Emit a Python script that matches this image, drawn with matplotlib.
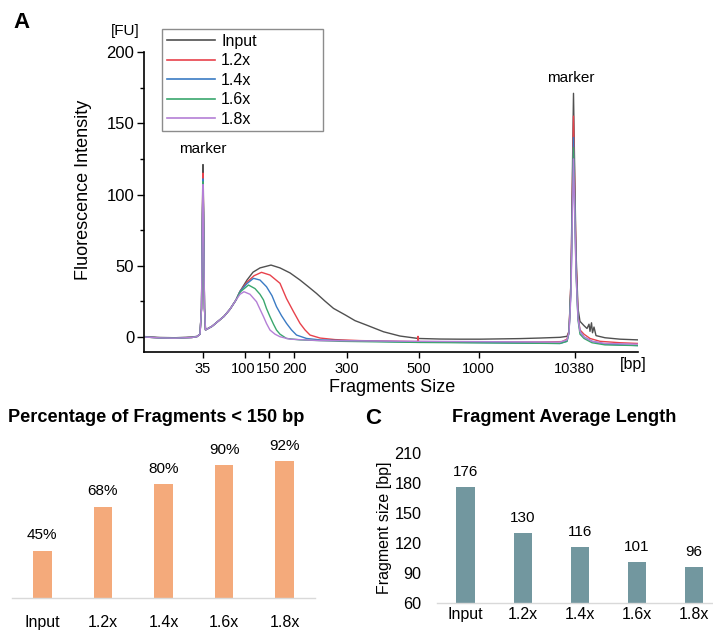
import matplotlib
matplotlib.use('Agg')
import matplotlib.pyplot as plt
import matplotlib.transforms as mtransforms

plt.rcParams['font.family'] = ['Liberation Sans', 'DejaVu Sans']

# ---------------- Panel A: electropherogram (migration time [s] vs FU) -------------
ladder_bp = [35, 100, 150, 200, 300, 500, 1000, 10380]
ladder_time = [40.6, 49.1, 53.7, 58.7, 69.3, 83.8, 95.7, 114.9]

lower_time = [29.0, 32.0, 35.0, 37.0, 38.4, 39.4, 40.0, 40.3, 40.5, 40.6, 40.7, 40.9, 41.1,
              42.4, 43.6, 44.8, 46.0, 47.2]
input_lower = [0.3, -0.3, -0.5, -0.2, 0.0, 0.5, 2.0, 20, 95, 121, 95, 20, 5.0, 7.5, 11, 14.5, 19.5, 26]
x12_lower = [0.0, -0.6, -0.8, -0.5, -0.3, 0.3, 2.0, 20, 90, 115, 90, 20, 5.0, 7.5, 11, 14.5, 19.5, 26]
x14_lower = [0.0, -0.6, -0.8, -0.5, -0.3, 0.3, 2.0, 20, 87, 111, 87, 20, 5.0, 7.5, 11, 14.5, 19.5, 26]
x16_lower = [0.0, -0.6, -0.8, -0.5, -0.3, 0.3, 2.0, 20, 85, 109, 85, 20, 5.0, 7.5, 11, 14.5, 19.5, 26]
x18_lower = [0.0, -0.6, -0.8, -0.5, -0.3, 0.3, 2.0, 20, 84, 107, 84, 20, 5.0, 7.5, 11, 14.5, 19.5, 26]

input_time = [48.0, 49.4, 50.6, 52.0, 54.2, 56.0, 58.0, 60.0, 61.6, 63.3, 65.0, 66.7, 69.1, 71.0,
              73.3, 76.7, 80.0, 83.6, 88.0, 92.0, 96.0, 100.0, 104.0, 108.0, 112.0, 113.4,
              113.8, 114.2, 114.5, 114.7, 114.9, 115.2, 115.6, 116.0, 116.8, 117.4, 117.8, 118.0,
              118.3, 118.5, 118.8, 119.2, 121.0, 124.0, 127.6]
input_fu = [32, 40, 45.5, 48.5, 50.5, 48.5, 45, 40, 35.5, 30.6, 25.2, 20.1, 15.4, 11.5,
            8.4, 3.7, 0.7, -1.0, -1.4, -1.5, -1.5, -1.3, -1.1, -0.7, -0.2, 0.5,
            4, 40, 120, 171, 125, 60, 20, 11, 8, 6, 9, 4,
            10, 3, 7, 1, -0.5, -1.5, -2.0]

x12_time = [48.0, 49.4, 50.8, 52.3, 54.0, 56.0, 57.3, 58.7, 60.0, 61.0, 62.0, 64.0,
            67.0, 72.0, 80.0, 83.5, 83.6, 83.7, 90.0, 100.0, 108.0, 112.4, 113.4, 113.8, 114.2,
            114.5, 114.7, 114.9, 115.2, 115.6, 116.0, 116.8, 118.0, 120.0, 124.0, 127.6]
x12_fu = [32, 38.5, 43, 45.4, 43.5, 37.7, 27, 17.8, 9.6, 5.0, 1.4, -0.7,
          -1.8, -2.5, -3.0, -3.2, 0.5, -3.2, -3.3, -3.5, -3.5, -3.2, -1.5, 4, 40,
          110, 155, 115, 55, 15, 5, 2, -1, -3, -4, -4.5]

x14_time = [48.0, 49.4, 50.7, 52.0, 53.3, 54.4, 55.3, 56.3, 57.3, 58.3, 59.3, 61.3, 64.0,
            72.0, 84.0, 100.0, 112.0, 113.4, 113.8, 114.2, 114.5, 114.7, 114.9, 115.2, 115.6,
            116.0, 116.8, 118.4, 121.0, 127.6]
x14_fu = [32, 37.5, 41.2, 40, 35.3, 29, 21.3, 15, 9.6, 5, 1.4, -1.0, -2.0,
          -2.8, -3.5, -4.0, -4.5, -3.0, 3, 35, 100, 140, 105, 50, 14,
          4, 0, -3, -5, -6]

x16_time = [48.0, 49.7, 51.0, 52.0, 52.7, 53.3, 54.0, 54.7, 55.3, 56.0, 57.3, 60.0, 68.0, 84.0,
            100.0, 112.0, 113.4, 113.8, 114.2, 114.5, 114.7, 114.9, 115.2, 115.6, 116.0, 116.8,
            118.4, 121.0, 127.6]
x16_fu = [31.5, 36.5, 34, 30, 26, 20, 14.3, 9, 4.9, 2, -1.0, -2.0, -3.0, -3.8,
          -4.2, -4.5, -3.0, 3, 35, 95, 133, 100, 45, 12, 2, -1,
          -4, -5.5, -6]

x18_time = [48.0, 48.8, 50.0, 51.3, 52.0, 52.7, 53.3, 54.0, 55.0, 56.0, 58.0, 64.0, 84.0, 100.0,
            112.0, 113.4, 113.8, 114.2, 114.5, 114.7, 114.9, 115.2, 115.6, 116.0, 116.8, 118.4,
            121.0, 127.6]
x18_fu = [30, 31.8, 30, 24.8, 19.5, 14.3, 9.5, 4.9, 2, 0.2, -1.5, -2.5, -3.0, -3.3,
          -3.5, -2.0, 3, 30, 90, 125, 95, 45, 13, 4, 0, -3,
          -4.5, -5]

series_names = ['Input', '1.2x', '1.4x', '1.6x', '1.8x']
series_colors = ['#505050', '#e8424c', '#3b7bc4', '#3aa76d', '#b47fd6']

# ---------------- Panels B and C: bar charts ----------------
bar_labels = ['Input', '1.2x', '1.4x', '1.6x', '1.8x']
pct_values = [45, 68, 80, 90, 92]
avg_values = [176, 130, 116, 101, 96]

W, H = 713, 631
fig = plt.figure(figsize=(W / 100, H / 100), dpi=100)

def fx(px):
    return px / W

def fy(py):
    return 1 - py / H

# ---- Panel A ----
axA = fig.add_axes([fx(144), fy(352), fx(638) - fx(144), fy(52) - fy(352)])
curves = [
    (lower_time + input_time, input_lower + input_fu),
    (lower_time + x12_time, x12_lower + x12_fu),
    (lower_time + x14_time, x14_lower + x14_fu),
    (lower_time + x16_time, x16_lower + x16_fu),
    (lower_time + x18_time, x18_lower + x18_fu),
]
for (t, v), name, c in zip(curves, series_names, series_colors):
    axA.plot(t, v, color=c, lw=1.0, label=name)

axA.set_xlim(28.8, 127.6)
axA.set_ylim(-10.5, 200)
axA.set_xticks(ladder_time)
axA.set_xticklabels([str(b) for b in ladder_bp], fontsize=10.5)
axA.set_yticks([0, 50, 100, 150, 200])
axA.set_yticks([25, 75, 125, 175], minor=True)
axA.tick_params(axis='y', which='major', labelsize=12, length=5, width=1, pad=2)
axA.tick_params(axis='y', which='minor', length=3, width=1)
axA.tick_params(axis='x', which='major', length=4, width=1, pad=3)
for s in ['top', 'right']:
    axA.spines[s].set_visible(False)
for s in ['left', 'bottom']:
    axA.spines[s].set_linewidth(1.2)

# nudge the crowded 100 / 200 labels apart from 150 (as in the original, they nearly touch)
tick_nudge_px = {1: -2.0, 3: 1.5}
for i, lab in enumerate(axA.get_xticklabels()):
    if i in tick_nudge_px:
        lab.set_transform(lab.get_transform() +
                          mtransforms.ScaledTranslation(tick_nudge_px[i] / 100, 0, fig.dpi_scale_trans))

fig.text(fx(83), fy(190), 'Fluorescence Intensity', rotation=90, ha='center', va='center', fontsize=13)
fig.text(fx(392), fy(387), 'Fragments Size', ha='center', va='center', fontsize=13)
fig.text(fx(633), fy(365), '[bp]', ha='center', va='center', fontsize=11.5)
fig.text(fx(125), fy(31), '[FU]', ha='center', va='center', fontsize=11)
fig.text(fx(22), fy(23), 'A', ha='center', va='center', fontsize=16, fontweight='bold')
axA.annotate('marker', xy=(ladder_time[0], 121), xytext=(0, 6), textcoords='offset points',
             ha='center', va='bottom', fontsize=11)
axA.annotate('marker', xy=(114.7, 171), xytext=(-2, 6), textcoords='offset points',
             ha='center', va='bottom', fontsize=11)

leg = fig.legend(loc='upper left',
                 bbox_to_anchor=(fx(162), fy(127), fx(323) - fx(162), fy(29) - fy(127)),
                 mode='expand', borderaxespad=0,
                 frameon=True, fancybox=False, edgecolor='#707070', fontsize=11.5,
                 handlelength=3.0, handletextpad=0.4, labelspacing=0.28, borderpad=0.3)
leg.get_frame().set_linewidth(1.0)
for line in leg.get_lines():
    line.set_linewidth(1.2)

# ---- Panel B ----
axB = fig.add_axes([fx(12), fy(598), fx(315) - fx(12), fy(446) - fy(598)])
xpos = list(range(len(bar_labels)))
axB.bar(xpos, pct_values, width=0.31, bottom=0, color='#f4aa7b')
axB.set_ylim(20, 100)
axB.set_xlim(-0.5, 4.5)
axB.set_xticks(xpos)
axB.set_xticklabels(bar_labels, fontsize=11.5)
axB.set_yticks([])
axB.tick_params(axis='x', length=0, pad=12)
for s in ['top', 'right', 'left']:
    axB.spines[s].set_visible(False)
axB.spines['bottom'].set_color('#d9d9d9')
axB.spines['bottom'].set_linewidth(1.0)
for x, v in zip(xpos, pct_values):
    axB.annotate(f'{v}%', xy=(x, v), xytext=(0, 6), textcoords='offset points',
                 ha='center', va='bottom', fontsize=11)
fig.text(fx(156), fy(417), 'Percentage of Fragments < 150 bp', ha='center', va='center',
         fontsize=13.1, fontweight='bold')

# ---- Panel C ----
axC = fig.add_axes([fx(437), fy(603), fx(722.5) - fx(437), fy(453) - fy(603)])
axC.bar(xpos, avg_values, width=0.32, bottom=0, color='#72979f')
axC.set_ylim(60, 210)
axC.set_xlim(-0.5, 4.5)
axC.set_yticks([60, 90, 120, 150, 180, 210])
axC.set_xticks(xpos)
axC.set_xticklabels(bar_labels, fontsize=11.5)
axC.tick_params(axis='x', length=0, pad=3)
axC.tick_params(axis='y', length=0, pad=11, labelsize=11.7)
for s in ['top', 'right', 'left']:
    axC.spines[s].set_visible(False)
axC.spines['bottom'].set_color('#d9d9d9')
axC.spines['bottom'].set_linewidth(1.0)
for x, v in zip(xpos, avg_values):
    axC.annotate(f'{v}', xy=(x, v), xytext=(0, 6), textcoords='offset points',
                 ha='center', va='bottom', fontsize=11)
fig.text(fx(385), fy(528), 'Fragment size [bp]', rotation=90, ha='center', va='center', fontsize=11.5)
fig.text(fx(564), fy(417), 'Fragment Average Length', ha='center', va='center',
         fontsize=13.1, fontweight='bold')
fig.text(fx(373), fy(419), 'C', ha='center', va='center', fontsize=16, fontweight='bold')

fig.savefig('out.png', dpi=100)
